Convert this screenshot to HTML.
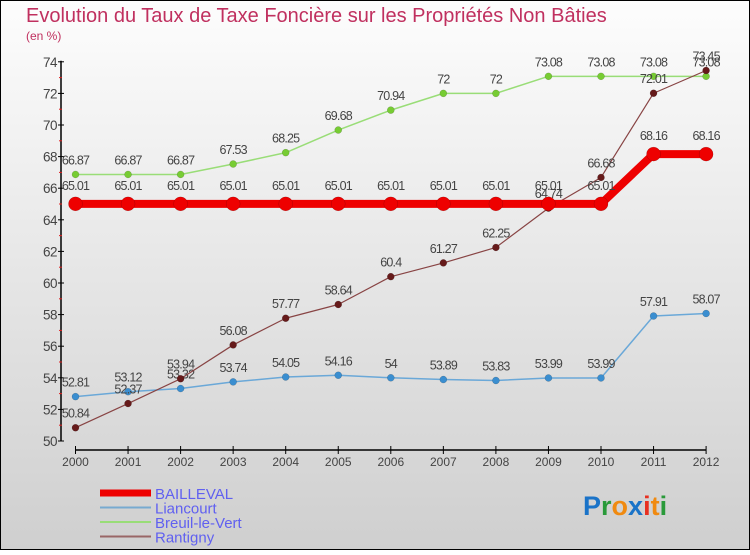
<!DOCTYPE html>
<html><head><meta charset="utf-8"><style>
body{margin:0;width:750px;height:550px;overflow:hidden;font-family:"Liberation Sans",sans-serif}
svg text{font-family:"Liberation Sans",sans-serif}
</style></head><body>
<svg id="chart" width="750" height="550" xmlns="http://www.w3.org/2000/svg">
<defs><linearGradient id="bg" x1="0" y1="0" x2="0" y2="1"><stop offset="0" stop-color="#fdfdfd"/><stop offset="1" stop-color="#cfcfcf"/></linearGradient></defs>
<rect x="0.5" y="0.5" width="749" height="549" fill="url(#bg)" stroke="#000"/>
<text x="26" y="22" font-size="20" fill="#c0305f">Evolution du Taux de Taxe Foncière sur les Propriétés Non Bâties</text>
<text x="26" y="40" font-size="12" fill="#c0305f">(en %)</text>
<g id="axes"></g><g id="series"></g><g id="legend"></g>
<text x="583" y="515" font-size="27" font-weight="bold"><tspan fill="#1a73c8">P</tspan><tspan fill="#2a9a3a">r</tspan><tspan fill="#f08a10">o</tspan><tspan fill="#1a73c8">x</tspan><tspan fill="#e83020">i</tspan><tspan fill="#f08a10">t</tspan><tspan fill="#2a9a3a">i</tspan></text>
</svg>
<script>
const years=[2000,2001,2002,2003,2004,2005,2006,2007,2008,2009,2010,2011,2012];
const bailleval=[65.01,65.01,65.01,65.01,65.01,65.01,65.01,65.01,65.01,65.01,65.01,68.16,68.16];
const liancourt=[52.81,53.12,53.32,53.74,54.05,54.16,54,53.89,53.83,53.99,53.99,57.91,58.07];
const breuil=[66.87,66.87,66.87,67.53,68.25,69.68,70.94,72,72,73.08,73.08,73.08,73.08];
const rantigny=[50.84,52.37,53.94,56.08,57.77,58.64,60.4,61.27,62.25,64.74,66.68,72.01,73.45];
const yTicks=[50,52,54,56,58,60,62,64,66,68,70,72,74];
const NS="http://www.w3.org/2000/svg";
function X(i){return 75.5+i*52.55;}
function Y(v){return 441-(v-50)*15.8;}
function mk(t,a,p){const e=document.createElementNS(NS,t);for(const k in a)e.setAttribute(k,a[k]);p.appendChild(e);return e;}
const axes=document.getElementById('axes');
const ya=mk('line',{x1:61,y1:Y(74)-1,x2:61,y2:Y(50),stroke:'#000','stroke-width':1.5},axes);


yTicks.forEach(v=>{
 mk('line',{x1:58,y1:Y(v),x2:64,y2:Y(v),stroke:'#000'},axes);
 if(v<74)mk('line',{x1:59,y1:Y(v+1),x2:62,y2:Y(v+1),stroke:'#e02020'},axes);
 const t=mk('text',{x:57,y:Y(v)+5,'font-size':13.5,fill:'#444','text-anchor':'end','letter-spacing':'-0.5'},axes);
 t.textContent=v;
 
 
});
const xa=mk('line',{x1:X(0),y1:450,x2:X(12),y2:450,stroke:'#000','stroke-width':1.5},axes);


years.forEach((yr,i)=>{
 mk('line',{x1:X(i),y1:446,x2:X(i),y2:454,stroke:'#000'},axes);
 const t=mk('text',{x:X(i),y:466,'font-size':12,fill:'#444','text-anchor':'middle'},axes);
 t.textContent=yr;
 
 
});
const S=document.getElementById('series');
function draw(name,vals,color,lw,r,dot){
 const g=mk('g',{},S);
 
 
 const pl=mk('polyline',{points:vals.map((v,i)=>X(i)+','+Y(v)).join(' '),fill:'none',stroke:color,'stroke-width':lw,'stroke-linejoin':'round'},g);
 
 
 vals.forEach((v,i)=>{
  const c=mk('circle',{cx:X(i),cy:Y(v),r:r,fill:dot,stroke:'rgba(0,0,0,0.25)','stroke-width':0.5},g);
  
  
  const t=mk('text',{x:X(i),y:Y(v)-(r>5?14:10),'font-size':12.5,fill:'#444','text-anchor':'middle','letter-spacing':'-0.8'},g);
  t.textContent=v;
  
  
 });
}
draw('breuil-le-vert',breuil,'#99dd77',1.5,3.5,'#77cc33');
draw('liancourt',liancourt,'#6aa8d8',1.5,3.5,'#3a8ed0');
draw('rantigny',rantigny,'#884444',1.2,3.5,'#661a1a');
draw('bailleval',bailleval,'#ee0000',8,7,'#ee0000');
const L=document.getElementById('legend');
const items=[['BAILLEVAL','#ee0000',7],['Liancourt','#77aad0',2],['Breuil-le-Vert','#99dd77',2],['Rantigny','#996666',2]];
items.forEach((it,i)=>{
 const y=493+i*14.5;
 const g=mk('g',{},L);
 
 
 mk('line',{x1:100,y1:y,x2:151,y2:y,stroke:it[1],'stroke-width':it[2]},g);
 const t=mk('text',{x:155,y:y+6,'font-size':15,fill:'#6060f0'},g);
 t.textContent=it[0];
});
</script>
</body></html>
